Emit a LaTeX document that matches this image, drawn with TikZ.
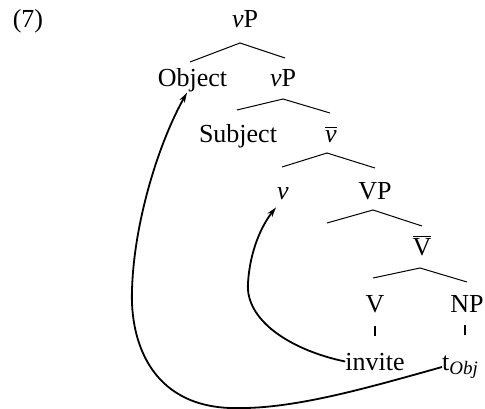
\documentclass[tikz,border=0pt]{standalone}
\usepackage{fontspec}
\setmainfont{Liberation Serif}
\usetikzlibrary{calc,arrows.meta}
\tikzset{
  lbl/.style={inner sep=0pt, anchor=base, font=\fontsize{26}{30}\selectfont},
  roof/.style={line width=1pt},
  tick/.style={line width=1.1pt},
  mv/.style={line width=1.8pt, -{Stealth[length=10pt,width=6pt]}}
}
\begin{document}
\begin{tikzpicture}[x=1pt,y=-1pt]
\useasboundingbox (0,0) rectangle (485,409);
% labels
\node[lbl] (ex) at (28,28) {(7)};
\node[lbl] (vp0) at (245,28) {\textit{v}P};
\node[lbl] (obj) at (192.5,87) {Object};
\node[lbl] (vp1) at (283,87) {\textit{v}P};
\node[lbl] (subj) at (238,143) {Subject};
\node[lbl] (vbar) at (331,143) {$\overline{\hbox{\rule{0pt}{14pt}\textit{v}}}$};
\node[lbl] (v) at (283,200) {\textit{v}};
\node[lbl] (vp2) at (375,200) {VP};
\node[lbl] (Vbar) at (422,255) {$\overline{\hbox{V}}$};
\node[lbl] (V) at (375,312) {V};
\node[lbl] (np) at (467,312) {NP};
\node[lbl] (inv) at (375,370) {invite};
\node[lbl, anchor=base west] (tobj) at (442,370) {t$_{\hbox{\fontsize{19}{22}\selectfont\textit{Obj}}}$};
% roofs
\draw[roof] (190,62) -- (240,43) -- (285,58);
\draw[roof] (237,110) -- (283,99) -- (330,113);
\draw[roof] (282,167) -- (327,153) -- (375,168);
\draw[roof] (327,223) -- (373,210) -- (422,226);
\draw[roof] (373,278) -- (420,268) -- (467,282);
% ticks
\draw[tick] ($(V.south)+(0,13)$) -- ($(V.south)+(0,23)$);
\draw[tick] ($(np.south)+(-2,13)$) -- ($(np.south)+(-2,23)$);
% movement arrows
\coordinate (vtip) at ($(v.south)+(-7,7)$);
\coordinate (otip) at ($(obj.south)+(-5.5,0)$);
\draw[mv] (inv.west) .. controls (290,350) and (245,320) .. (248,283)
  .. controls (250,250) and (262,225) .. (vtip);
\draw[mv] (tobj.west) .. controls (360,390) and (290,410) .. (230,408)
  .. controls (150,405) and (130,340) .. (132,290)
  .. controls (134,220) and (160,140) .. (otip);
\end{tikzpicture}
\end{document}
